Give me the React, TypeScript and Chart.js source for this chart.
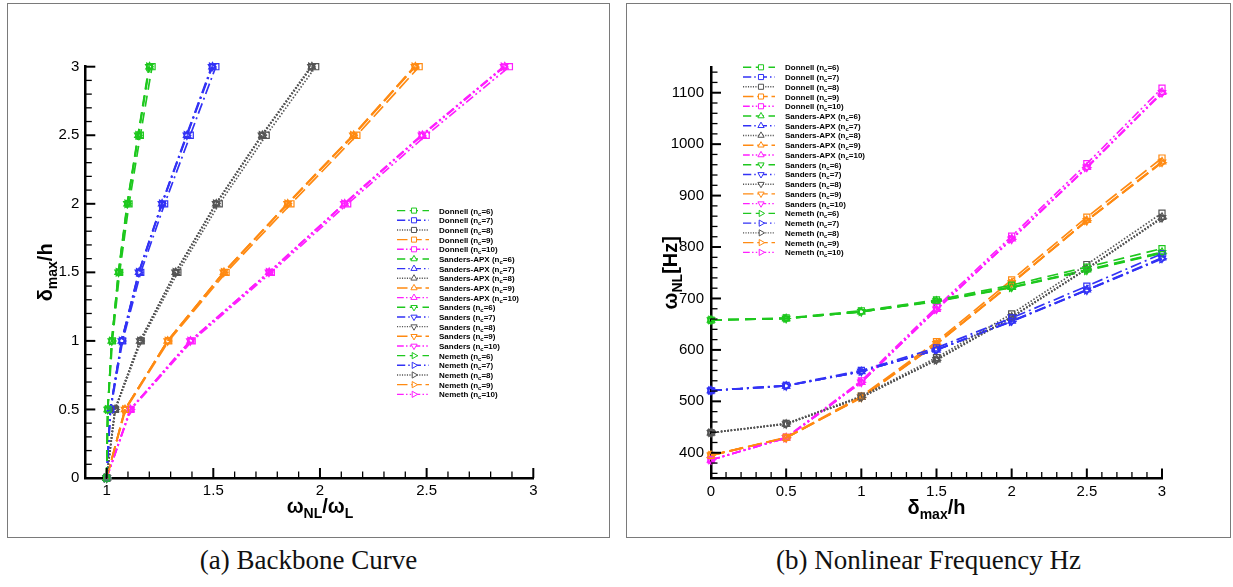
import React, { useEffect, useRef } from 'react';
import { Chart, registerables } from 'chart.js';

Chart.register(...registerables);

// ---------------- data ----------------
const amplitudes = [0, 0.5, 1, 1.5, 2, 2.5, 3]; // delta_max / h
const waveNumbers = [6, 7, 8, 9, 10]; // n_c
const theoryNames = ['Donnell', 'Sanders-APX', 'Sanders', 'Nemeth'];

// (a) backbone: omega_NL / omega_L, rows n_c = 6..10, columns follow amplitudes
const ratioDonnell = [
  [1, 1.006, 1.027, 1.061, 1.105, 1.158, 1.213],
  [1, 1.019, 1.075, 1.16, 1.272, 1.392, 1.512],
  [1, 1.041, 1.162, 1.334, 1.528, 1.748, 1.98],
  [1, 1.089, 1.291, 1.56, 1.864, 2.173, 2.465],
  [1, 1.114, 1.401, 1.772, 2.13, 2.498, 2.888],
];
const ratioSandersApx = [
  [1, 1.005, 1.024, 1.056, 1.098, 1.149, 1.201],
  [1, 1.017, 1.071, 1.152, 1.26, 1.377, 1.496],
  [1, 1.039, 1.157, 1.324, 1.514, 1.73, 1.962],
  [1, 1.086, 1.286, 1.55, 1.849, 2.158, 2.447],
  [1, 1.111, 1.393, 1.762, 2.116, 2.48, 2.866],
];
const ratioSanders = [
  [1, 1.005, 1.024, 1.056, 1.097, 1.148, 1.2],
  [1, 1.017, 1.071, 1.151, 1.259, 1.376, 1.494],
  [1, 1.039, 1.157, 1.323, 1.513, 1.728, 1.96],
  [1, 1.086, 1.286, 1.549, 1.848, 2.156, 2.445],
  [1, 1.111, 1.392, 1.761, 2.114, 2.478, 2.863],
];
const ratioNemeth = [
  [1, 1.005, 1.024, 1.055, 1.096, 1.147, 1.198],
  [1, 1.017, 1.07, 1.15, 1.258, 1.374, 1.492],
  [1, 1.039, 1.156, 1.322, 1.511, 1.726, 1.957],
  [1, 1.086, 1.285, 1.548, 1.846, 2.154, 2.442],
  [1, 1.111, 1.391, 1.759, 2.112, 2.475, 2.86],
];

// (b) nonlinear frequency [Hz], rows n_c = 6..10
const freqDonnell = [
  [658, 662, 676, 697, 726, 761, 797],
  [521, 531, 560, 604, 662, 724, 787],
  [439, 457, 510, 585, 670, 766, 866],
  [395, 430, 510, 616, 736, 858, 973],
  [386, 430, 540, 683, 821, 962, 1109],
];
const freqSandersApx = [
  [658, 661, 674, 695, 722, 756, 790],
  [521, 530, 558, 600, 656, 717, 779],
  [439, 456, 508, 581, 664, 758, 858],
  [395, 429, 508, 612, 730, 852, 966],
  [386, 429, 537, 679, 816, 955, 1101],
];
const freqSanders = [
  [658, 661, 674, 695, 722, 755, 789],
  [521, 530, 558, 600, 656, 716, 778],
  [439, 456, 508, 581, 664, 758, 857],
  [395, 429, 508, 612, 730, 851, 965],
  [386, 429, 537, 679, 815, 955, 1100],
];
const freqNemeth = [
  [658, 661, 674, 694, 721, 754, 788],
  [521, 530, 558, 600, 655, 716, 777],
  [439, 456, 508, 580, 663, 757, 856],
  [395, 429, 507, 611, 729, 851, 964],
  [386, 429, 537, 678, 815, 954, 1099],
];

// axes
const backboneXRange = [0.9, 3];
const backboneYRange = [0, 3];
const freqXRange = [0, 3];
const freqYRange = [350, 1150];
const backboneXLabels = ['1', '1.5', '2', '2.5', '3'];
const backboneYLabels = ['0', '0.5', '1', '1.5', '2', '2.5', '3'];
const freqXLabels = ['0', '0.5', '1', '1.5', '2', '2.5', '3'];
const freqYLabels = ['400', '500', '600', '700', '800', '900', '1000', '1100'];

// ---------------- styles ----------------
const ncColors = ['#1ec81e', '#3232f5', '#555555', '#ff8a12', '#ff1eff'];
const ncDashes = [[11, 6], [11, 4, 2, 4], [1.5, 1.8], [14, 5], [9, 3, 2, 3, 2, 3]];
const theoryMarkers = [
  { style: 'rect', rotation: 0, radius: 4.3 },
  { style: 'triangle', rotation: 0, radius: 4.3 },
  { style: 'triangle', rotation: 180, radius: 4.3 },
  { style: 'triangle', rotation: 90, radius: 4.3 },
];
const FONT = '"Liberation Sans", Arial, Helvetica, sans-serif';

type Seg = { t: string; sub?: boolean };

function drawRich(
  ctx: CanvasRenderingContext2D,
  segs: Seg[],
  x: number,
  y: number,
  size: number,
  subSize: number,
  subShift: number,
  vertical: boolean,
  align: 'center' | 'left'
) {
  ctx.save();
  ctx.fillStyle = '#000';
  ctx.textBaseline = 'alphabetic';
  ctx.textAlign = 'left';
  ctx.setLineDash([]);
  const fMain = `bold ${size}px ${FONT}`;
  const fSub = `bold ${subSize}px ${FONT}`;
  let total = 0;
  const widths = segs.map((s) => {
    ctx.font = s.sub ? fSub : fMain;
    const w = ctx.measureText(s.t).width;
    total += w;
    return w;
  });
  ctx.translate(x, y);
  if (vertical) ctx.rotate(-Math.PI / 2);
  let cx = align === 'center' ? -total / 2 : 0;
  segs.forEach((s, i) => {
    ctx.font = s.sub ? fSub : fMain;
    ctx.fillText(s.t, cx, s.sub ? subShift : 0);
    cx += widths[i];
  });
  ctx.restore();
}

function drawMarker(ctx: CanvasRenderingContext2D, style: string, rotation: number, x: number, y: number, r: number) {
  ctx.beginPath();
  if (style === 'rect') {
    const s = r * Math.SQRT1_2;
    ctx.rect(x - s, y - s, 2 * s, 2 * s);
  } else {
    let rad = (rotation * Math.PI) / 180;
    ctx.moveTo(x + Math.sin(rad) * r, y - Math.cos(rad) * r);
    rad += (2 * Math.PI) / 3;
    ctx.lineTo(x + Math.sin(rad) * r, y - Math.cos(rad) * r);
    rad += (2 * Math.PI) / 3;
    ctx.lineTo(x + Math.sin(rad) * r, y - Math.cos(rad) * r);
    ctx.closePath();
  }
  ctx.fill();
  ctx.stroke();
}

function makeTicks(min: number, max: number, step: number) {
  const out: { value: number }[] = [];
  const k0 = Math.ceil(min / step - 1e-9);
  const k1 = Math.floor(max / step + 1e-9);
  for (let k = k0; k <= k1; k++) out.push({ value: Math.round(k * step * 1e6) / 1e6 });
  return out;
}

function buildDatasets(tables: number[][][], mode: 'backbone' | 'freq') {
  const ds: any[] = [];
  theoryNames.forEach((name, ti) => {
    waveNumbers.forEach((nc, ni) => {
      const row = tables[ti][ni];
      const data =
        mode === 'backbone'
          ? row.map((r, k) => ({ x: r, y: amplitudes[k] }))
          : row.map((f, k) => ({ x: amplitudes[k], y: f }));
      const m = theoryMarkers[ti];
      ds.push({
        label: `${name} (nc=${nc})`,
        theoryName: name,
        nc,
        data,
        showLine: true,
        borderColor: ncColors[ni],
        borderWidth: 1.7,
        borderDash: ncDashes[ni],
        pointStyle: m.style,
        pointRotation: m.rotation,
        pointRadius: m.radius,
        pointBorderWidth: 1.2,
        pointBorderColor: ncColors[ni],
        pointBackgroundColor: 'rgba(255,255,255,0)',
        clip: false,
        tension: 0,
      });
    });
  });
  return ds;
}

type Spec = {
  tables: number[][][];
  mode: 'backbone' | 'freq';
  xRange: number[];
  yRange: number[];
  xMinor: number;
  yMinor: number;
  xLabels: string[];
  yLabels: string[];
  padding: { left: number; right: number; top: number; bottom: number };
  xTitle: Seg[];
  yTitle: Seg[];
  xTitleAt: number;
  yTitleAt: number;
  xTitleDy: number;
  yTitleDx: number;
  legend: { x0: number; x1: number; mx: number; tx: number; y0: number; dy: number };
  yLabelPad: number;
};

function decorPlugin(spec: Spec) {
  return {
    id: 'decor',
    afterDraw(chart: any) {
      const ctx: CanvasRenderingContext2D = chart.ctx;
      const { left, bottom } = chart.chartArea;
      const xs = chart.scales.x;
      const ys = chart.scales.y;
      ctx.save();
      ctx.strokeStyle = '#000';
      ctx.setLineDash([]);
      ctx.lineCap = 'butt';
      xs.ticks.forEach((t: any) => {
        const major = spec.xLabels.includes(String(t.value));
        const px = xs.getPixelForValue(t.value);
        ctx.lineWidth = major ? 2 : 1.3;
        ctx.beginPath();
        ctx.moveTo(px, bottom);
        ctx.lineTo(px, bottom - (major ? 10 : 6.5));
        ctx.stroke();
      });
      ys.ticks.forEach((t: any) => {
        const major = spec.yLabels.includes(String(t.value));
        const py = ys.getPixelForValue(t.value);
        ctx.lineWidth = major ? 2 : 1.3;
        ctx.beginPath();
        ctx.moveTo(left, py);
        ctx.lineTo(left + (major ? 10 : 6.5), py);
        ctx.stroke();
      });
      ctx.restore();

      // axis titles
      drawRich(ctx, spec.xTitle, xs.getPixelForValue(spec.xTitleAt), bottom + spec.xTitleDy, 20, 14, 5, false, 'center');
      drawRich(ctx, spec.yTitle, left - spec.yTitleDx, ys.getPixelForValue(spec.yTitleAt), 20, 14, 5, true, 'center');

      // legend
      const L = spec.legend;
      chart.data.datasets.forEach((d: any, i: number) => {
        const y = L.y0 + i * L.dy;
        ctx.save();
        ctx.strokeStyle = d.borderColor;
        ctx.lineWidth = 1.4;
        ctx.setLineDash(d.borderDash.map((v: number) => v * 0.75));
        ctx.beginPath();
        ctx.moveTo(L.x0, y);
        ctx.lineTo(L.x1, y);
        ctx.stroke();
        ctx.setLineDash([]);
        ctx.fillStyle = '#fff';
        ctx.lineWidth = 1;
        drawMarker(ctx, d.pointStyle, d.pointRotation, L.mx, y, 3.6);
        ctx.restore();
        drawRich(
          ctx,
          [{ t: `${d.theoryName} (n` }, { t: 'c', sub: true }, { t: `=${d.nc})` }],
          L.tx,
          y + 3,
          8,
          6,
          2,
          false,
          'left'
        );
      });
    },
  };
}

function makeConfig(spec: Spec): any {
  const tickFont = { family: FONT, size: 15 };
  return {
    type: 'scatter',
    data: { datasets: buildDatasets(spec.tables, spec.mode) },
    options: {
      animation: false,
      responsive: false,
      devicePixelRatio: 1,
      events: [],
      layout: { padding: spec.padding },
      plugins: {
        legend: { display: false },
        tooltip: { enabled: false },
        title: { display: false },
      },
      scales: {
        x: {
          type: 'linear',
          min: spec.xRange[0],
          max: spec.xRange[1],
          afterBuildTicks: (s: any) => {
            s.ticks = makeTicks(spec.xRange[0], spec.xRange[1], spec.xMinor);
          },
          afterFit: (s: any) => {
            s.height = 40;
          },
          grid: { display: false, drawTicks: false },
          border: { display: true, color: '#000', width: 2.5 },
          ticks: {
            autoSkip: false,
            maxRotation: 0,
            minRotation: 0,
            padding: 4,
            color: '#000',
            font: tickFont,
            callback: (v: number) => (spec.xLabels.includes(String(v)) ? String(v) : ''),
          },
        },
        y: {
          type: 'linear',
          min: spec.yRange[0],
          max: spec.yRange[1],
          afterBuildTicks: (s: any) => {
            s.ticks = makeTicks(spec.yRange[0], spec.yRange[1], spec.yMinor);
          },
          afterFit: (s: any) => {
            s.width = 60;
          },
          grid: { display: false, drawTicks: false },
          border: { display: true, color: '#000', width: 2.5 },
          ticks: {
            autoSkip: false,
            padding: spec.yLabelPad,
            color: '#000',
            font: tickFont,
            callback: (v: number) => (spec.yLabels.includes(String(v)) ? String(v) : ''),
          },
        },
      },
    },
    plugins: [decorPlugin(spec)],
  };
}

const specA: Spec = {
  tables: [ratioDonnell, ratioSandersApx, ratioSanders, ratioNemeth],
  mode: 'backbone',
  xRange: backboneXRange,
  yRange: backboneYRange,
  xMinor: 0.1,
  yMinor: 0.1,
  xLabels: backboneXLabels,
  yLabels: backboneYLabels,
  padding: { left: 17.3, right: 75.7, top: 62.7, bottom: 19 },
  xTitle: [{ t: 'ω' }, { t: 'NL', sub: true }, { t: '/ω' }, { t: 'L', sub: true }],
  yTitle: [{ t: 'δ' }, { t: 'max', sub: true }, { t: '/h' }],
  xTitleAt: 2,
  yTitleAt: 1.5,
  xTitleDy: 35,
  yTitleDx: 33,
  legend: { x0: 389, x1: 421, mx: 406, tx: 431, y0: 206.6, dy: 9.67 },
  yLabelPad: 6,
};

const specB: Spec = {
  tables: [freqDonnell, freqSandersApx, freqSanders, freqNemeth],
  mode: 'freq',
  xRange: freqXRange,
  yRange: freqYRange,
  xMinor: 0.1,
  yMinor: 20,
  xLabels: freqXLabels,
  yLabels: freqYLabels,
  padding: { left: 24, right: 68, top: 63, bottom: 18.5 },
  xTitle: [{ t: 'δ' }, { t: 'max', sub: true }, { t: '/h' }],
  yTitle: [{ t: 'ω' }, { t: 'NL', sub: true }, { t: '[Hz]' }],
  xTitleAt: 1.5,
  yTitleAt: 750,
  xTitleDy: 35,
  yTitleDx: 34,
  legend: { x0: 116, x1: 148, mx: 134, tx: 158, y0: 63.3, dy: 9.74 },
  yLabelPad: 7,
};

function Panel({ spec, left, width, caption }: { spec: Spec; left: number; width: number; caption: string }) {
  const ref = useRef<HTMLCanvasElement | null>(null);
  useEffect(() => {
    if (!ref.current) return;
    const chart = new Chart(ref.current, makeConfig(spec));
    return () => chart.destroy();
  }, [spec]);
  return (
    <>
      <div
        style={{
          position: 'absolute',
          left,
          top: 3,
          width,
          height: 533,
          border: '1px solid #7a7a7a',
          background: '#fff',
        }}
      >
        <canvas ref={ref} width={width} height={533} style={{ display: 'block', width, height: 533 }} />
      </div>
      <div
        style={{
          position: 'absolute',
          left,
          top: 547,
          width: width + 2,
          textAlign: 'center',
          fontFamily: '"Liberation Serif", "Times New Roman", serif',
          fontSize: 27,
          lineHeight: '27px',
          color: '#111',
          whiteSpace: 'nowrap',
        }}
      >
        {caption}
      </div>
    </>
  );
}

export default function App() {
  return (
    <div style={{ position: 'fixed', left: 0, top: 0, width: 1233, height: 587, background: '#fff', overflow: 'hidden' }}>
      <Panel spec={specA} left={7} width={601} caption="(a) Backbone Curve" />
      <Panel spec={specB} left={626} width={603} caption="(b) Nonlinear Frequency Hz" />
    </div>
  );
}
